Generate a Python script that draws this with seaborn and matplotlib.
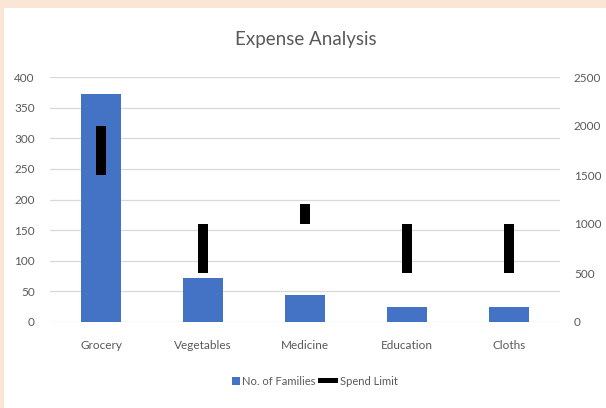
import matplotlib.pyplot as plt
import matplotlib.patches as mpatches
import seaborn as sns
import pandas as pd

# data
categories = ['Grocery', 'Vegetables', 'Medicine', 'Education', 'Cloths']
families = [373, 72, 44, 25, 25]
limit_low = [1500, 500, 1000, 500, 500]
limit_high = [2000, 1000, 1200, 1000, 1000]

blue = '#4472C4'
grey_text = '#595959'
grid_col = '#D9D9D9'

df = pd.DataFrame({'Category': categories, 'Families': families})

sns.set_style("white")
plt.rcParams['font.family'] = ['Lato', 'DejaVu Sans']

fig = plt.figure(figsize=(6.06, 4.08), dpi=100)
fig.patch.set_facecolor('#FBE5D6')
# white chart panel inside the peach frame
fig.patches.append(mpatches.Rectangle((4 / 606, 0), 1, 1 - 8 / 408, transform=fig.transFigure,
                                      facecolor='white', edgecolor='none', zorder=-1))

ax = fig.add_axes([50 / 606, (408 - 322) / 408, 510 / 606, 245 / 408])
ax.set_facecolor('none')
sns.barplot(x='Category', y='Families', data=df, color=blue, width=0.39,
            saturation=1, ax=ax, zorder=2, edgecolor='none', linewidth=0)
ax.set_ylim(0, 400)
ax.set_yticks(range(0, 401, 50))
ax.yaxis.grid(True, color=grid_col, linewidth=0.9)
ax.set_axisbelow(True)
ax.set_xlabel('')
ax.set_ylabel('')
for s in ax.spines.values():
    s.set_visible(False)
ax.tick_params(axis='both', length=0, labelsize=8.5, colors=grey_text)
ax.tick_params(axis='x', pad=13)
ax.tick_params(axis='y', pad=11)

ax2 = ax.twinx()
heights = [h - l for h, l in zip(limit_high, limit_low)]
ax2.bar(categories, heights, bottom=limit_low, width=0.1, color='black',
        edgecolor='none', linewidth=0, zorder=3)
ax2.set_ylim(0, 2500)
ax2.set_yticks(range(0, 2501, 500))
for s in ax2.spines.values():
    s.set_visible(False)
ax2.tick_params(axis='y', length=0, labelsize=8.5, colors=grey_text, pad=10)
ax.set_xlim(-0.5, len(categories) - 0.5)

fig.text(0.505, 0.902, 'Expense Analysis', ha='center', va='center',
         fontsize=13.5, color=grey_text)

handles = [mpatches.Rectangle((0, 0), 1, 1, facecolor=blue, edgecolor='none', label='No. of Families'),
           mpatches.Rectangle((0, 0), 1, 1, facecolor='black', edgecolor='none', label='Spend Limit')]
leg = fig.legend(handles=handles, loc='center', bbox_to_anchor=(0.51, 0.066), ncol=2,
                 frameon=False, fontsize=8, handlelength=1.8, handletextpad=0.15,
                 columnspacing=0.3, labelcolor=grey_text, handleheight=0.7)
# small square key for the bars, wide flat key for the spend limit
hb, hk = leg.legend_handles
w = hb.get_width()
hb.set_x(hb.get_x() + w * 0.6)
hb.set_width(w * 0.4)
h = hk.get_height()
hk.set_y(hk.get_y() + h * 0.2)
hk.set_height(h * 0.6)

fig.savefig('out.png', dpi=100, facecolor=fig.get_facecolor())
